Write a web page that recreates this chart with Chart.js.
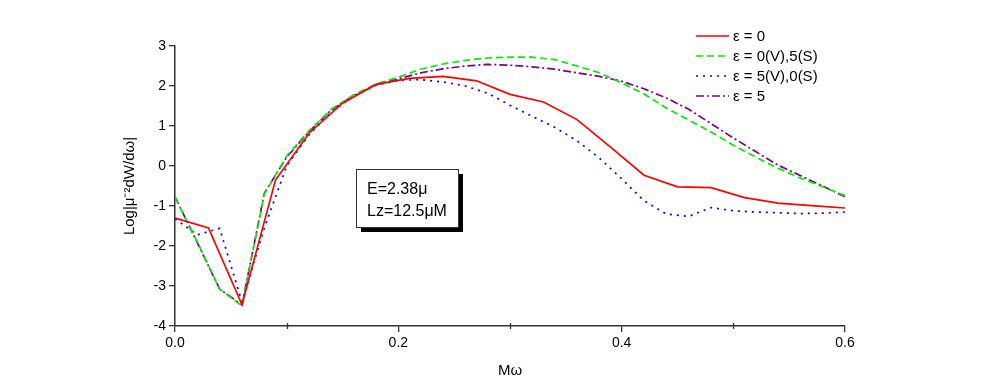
<!DOCTYPE html>
<html>
<head>
<meta charset="utf-8">
<script src="https://cdn.jsdelivr.net/npm/chart.js@4.4.1/dist/chart.umd.min.js"></script>
<style>
  html, body { margin: 0; padding: 0; background: #fff; }
  #wrap { width: 981px; height: 392px; }
</style>
</head>
<body>
<div id="wrap"><canvas id="chart"></canvas></div>
<script>
// x grids (Mω)
var mOmegaRed = [0.00, 0.03, 0.06, 0.09, 0.12, 0.15, 0.18, 0.21, 0.24, 0.27, 0.30,
                 0.33, 0.36, 0.39, 0.42, 0.45, 0.48, 0.51, 0.54, 0.57, 0.60];
var mOmega = [0.00, 0.02, 0.04, 0.06, 0.08, 0.10, 0.12, 0.14, 0.16, 0.18, 0.20,
              0.22, 0.24, 0.26, 0.28, 0.30, 0.32, 0.34, 0.36, 0.38, 0.40,
              0.42, 0.44, 0.46, 0.48, 0.50, 0.52, 0.54, 0.56, 0.58, 0.60];

// log|mu^-2 dW/dw|
var eps0 = [-1.30, -1.55, -3.47, -0.35, 0.82, 1.57, 2.04, 2.19, 2.24, 2.13, 1.79,
            1.60, 1.16, 0.47, -0.23, -0.52, -0.54, -0.79, -0.93, -0.99, -1.05];
var eps0V5S = [-0.78, -1.90, -3.08, -3.50, -0.70, 0.25, 0.88, 1.42, 1.78, 2.05, 2.22,
               2.42, 2.55, 2.64, 2.70, 2.72, 2.72, 2.66, 2.50, 2.33, 2.08,
               1.80, 1.45, 1.15, 0.85, 0.52, 0.22, -0.06, -0.30, -0.52, -0.74];
var eps5V0S = [-1.32, -1.72, -1.56, -3.40, -1.55, 0.00, 0.78, 1.35, 1.74, 2.02, 2.14,
               2.16, 2.10, 2.00, 1.82, 1.52, 1.24, 0.97, 0.63, 0.20, -0.32,
               -0.87, -1.20, -1.26, -1.04, -1.12, -1.15, -1.17, -1.19, -1.18, -1.15];
var eps5 = [-0.77, -1.92, -3.08, -3.47, -0.68, 0.22, 0.86, 1.40, 1.76, 2.03, 2.18,
            2.33, 2.43, 2.50, 2.54, 2.52, 2.48, 2.42, 2.33, 2.24, 2.12,
            1.93, 1.70, 1.42, 1.06, 0.70, 0.36, 0.02, -0.24, -0.50, -0.77];

var seriesLabels = ["ε = 0", "ε = 0(V),5(S)", "ε = 5(V),0(S)", "ε = 5"];
var xTickLabels = ["0.0", "0.2", "0.4", "0.6"];
var xMinorTicks = [0.1, 0.3, 0.5];
var noteLines = ["E=2.38μ", "Lz=12.5μM"];

var FONT = "'Liberation Sans', Arial, sans-serif";

function pts(xs, ys) {
	return xs.map(function(x, i) { return { x: x, y: ys[i] }; });
}

function isMinor(v) {
	return Math.round(v * 10) % 2 === 1;
}

// legend, note box and short minor ticks drawn on top
var extras = {
	id: 'extras',
	afterDraw: function(chart) {
		var c = chart.ctx;
		var area = chart.chartArea;
		var xs = chart.scales.x;
		c.save();

		// minor x ticks crossing the axis
		c.strokeStyle = '#333';
		c.lineWidth = 1.3;
		xMinorTicks.forEach(function(v) {
			var px = Math.round(xs.getPixelForValue(v)) + 0.5;
			c.beginPath();
			c.moveTo(px, area.bottom - 3);
			c.lineTo(px, area.bottom + 3);
			c.stroke();
		});

		// legend, top right
		var lx = 696, ly = 36;
		c.font = "15px " + FONT;
		c.textBaseline = 'middle';
		c.fillStyle = '#000';
		chart.data.datasets.forEach(function(ds, i) {
			var y = ly + i * 20;
			c.strokeStyle = ds.borderColor;
			c.lineWidth = ds.borderWidth;
			c.setLineDash(ds.borderDash || []);
			c.beginPath();
			c.moveTo(lx, y);
			c.lineTo(lx + 33, y);
			c.stroke();
			c.setLineDash([]);
			c.fillText(ds.label, lx + 37, y + 1);
		});

		// note box with shadow
		var bx = area.left + 181, by = area.top + 123, bw = 102, bh = 58;
		c.fillStyle = '#000';
		c.fillRect(bx + 5, by + 5, bw, bh);
		c.fillStyle = '#fff';
		c.fillRect(bx, by, bw, bh);
		c.strokeStyle = '#333';
		c.lineWidth = 1;
		c.strokeRect(bx + 0.5, by + 0.5, bw, bh);
		c.fillStyle = '#000';
		c.font = "16px " + FONT;
		c.textBaseline = 'alphabetic';
		c.fillText(noteLines[0], bx + 11, by + 25);
		c.fillText(noteLines[1], bx + 11, by + 47);
		c.restore();
	}
};

var ctx = document.getElementById('chart');

var chart = new Chart(ctx, {
	type: 'line',
	data: {
		datasets: [
			{
				label: seriesLabels[0],
				data: pts(mOmegaRed, eps0),
				borderColor: '#ff0000',
				borderWidth: 1.7
			},
			{
				label: seriesLabels[1],
				data: pts(mOmega, eps0V5S),
				borderColor: '#00ee00',
				borderWidth: 1.7,
				borderDash: [7, 4]
			},
			{
				label: seriesLabels[2],
				data: pts(mOmega, eps5V0S),
				borderColor: '#0000ff',
				borderWidth: 1.7,
				borderDash: [2, 5]
			},
			{
				label: seriesLabels[3],
				data: pts(mOmega, eps5),
				borderColor: '#800080',
				borderWidth: 1.7,
				borderDash: [8, 3, 2, 3]
			}
		]
	},
	options: {
		responsive: true,
		maintainAspectRatio: false,
		animation: false,
		layout: { padding: { top: 46, right: 136, left: 117, bottom: 8 } },
		elements: {
			point: { radius: 0 },
			line: { tension: 0, fill: false, borderCapStyle: 'butt' }
		},
		plugins: {
			legend: { display: false },
			tooltip: { enabled: false }
		},
		scales: {
			x: {
				type: 'linear',
				min: 0,
				max: 0.6,
				afterFit: function(scale) { scale.height = 58; },
				afterBuildTicks: function(scale) {
					scale.ticks = [0, 0.1, 0.2, 0.3, 0.4, 0.5, 0.6].map(function(v) { return { value: v }; });
				},
				ticks: {
					autoSkip: false,
					maxRotation: 0,
					padding: 3,
					color: '#000',
					font: { family: FONT, size: 14 },
					callback: function(v) {
						var k = Math.round(v * 10);
						return k % 2 === 0 ? xTickLabels[k / 2] : '';
					}
				},
				grid: {
					drawOnChartArea: false,
					drawTicks: true,
					tickLength: 6,
					lineWidth: 1.3,
					tickColor: function(c) {
						return c.tick && isMinor(c.tick.value) ? 'rgba(0,0,0,0)' : '#333';
					}
				},
				border: { display: true, color: '#333', width: 1.5 },
				title: {
					display: true,
					text: 'Mω',
					color: '#000',
					font: { family: FONT, size: 15 },
					padding: { top: 4, bottom: 4 }
				}
			},
			y: {
				min: -4,
				max: 3,
				afterFit: function(scale) { scale.width = 58; },
				ticks: {
					stepSize: 1,
					padding: 3,
					color: '#000',
					font: { family: FONT, size: 14 }
				},
				grid: { drawOnChartArea: false, drawTicks: true, tickLength: 6, color: '#333', lineWidth: 1.3 },
				border: { display: true, color: '#333', width: 1.5 },
				title: {
					display: true,
					text: 'Log|μ⁻²dW/dω|',
					color: '#000',
					font: { family: FONT, size: 15 },
					padding: { top: 4, bottom: 4 }
				}
			}
		}
	},
	plugins: [extras]
});
</script>
</body>
</html>
